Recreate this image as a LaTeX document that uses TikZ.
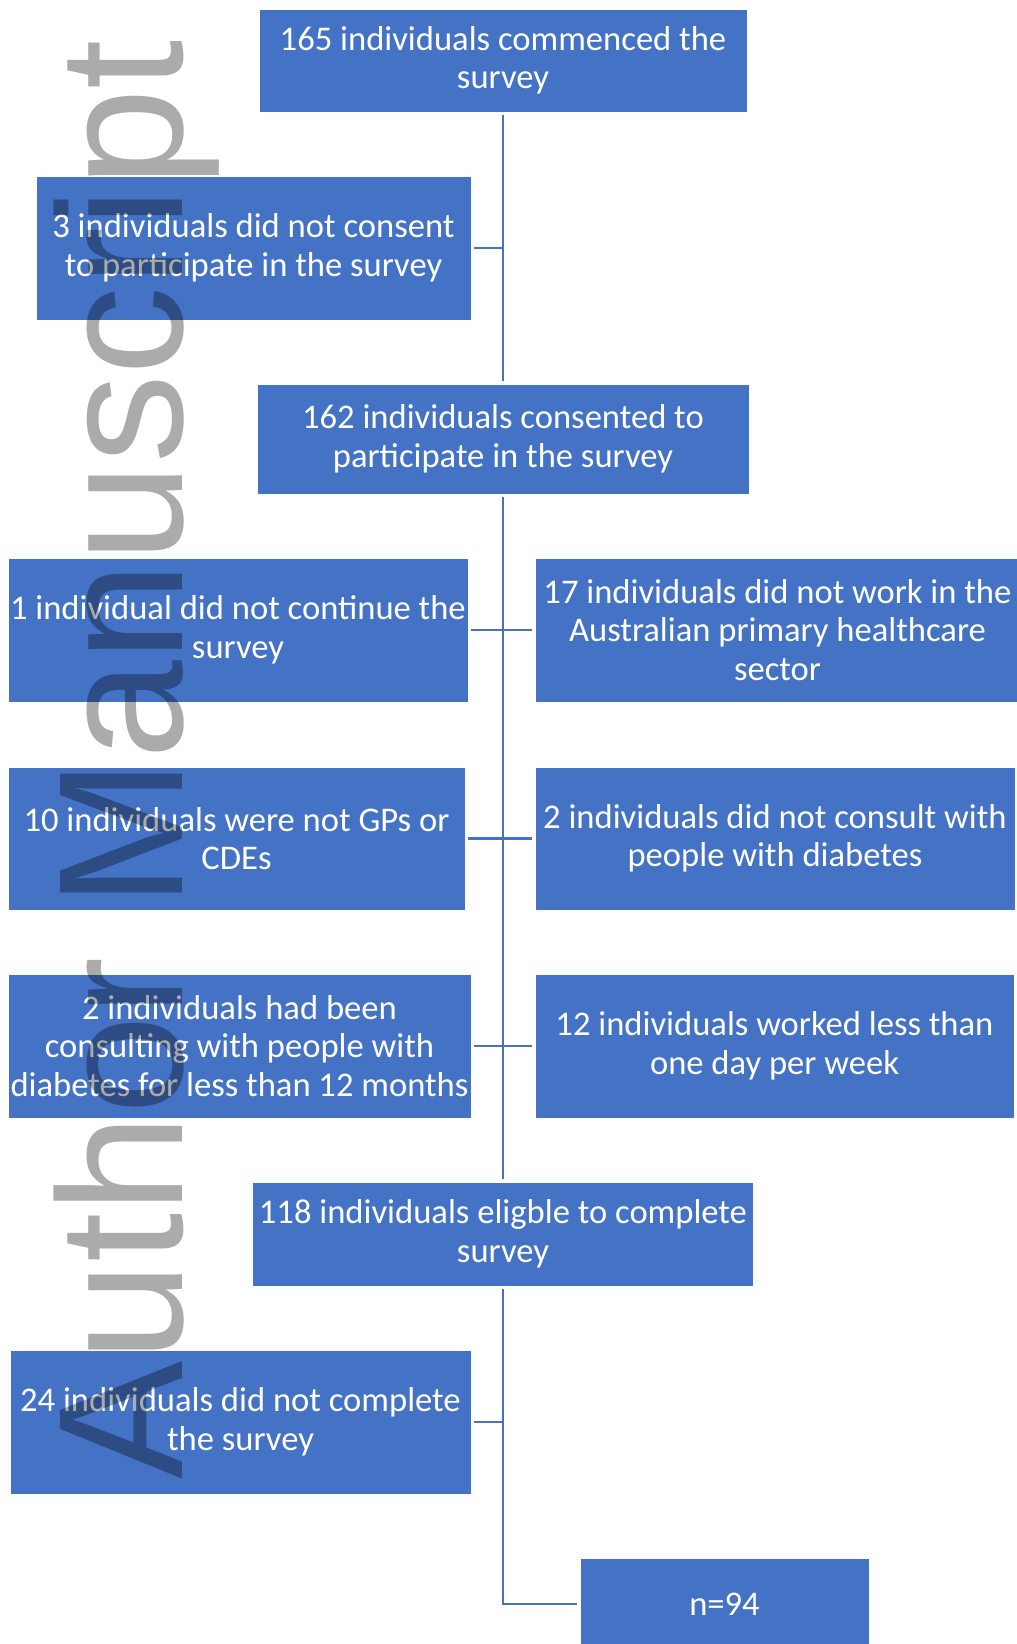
\documentclass[tikz,border=0pt]{standalone}
\usepackage{fontspec}
\setmainfont{Carlito}
\newfontfamily\wmfont{Liberation Sans}
\definecolor{boxblue}{HTML}{4472C4}
\begin{document}
\begin{tikzpicture}[x=1pt,y=-1pt,
  box/.style={fill=boxblue, draw=white, line width=0.8pt, text=white, align=center,
    inner sep=0pt, font=\fontsize{34.6}{38.5}\selectfont},
  conn/.style={draw=boxblue, line width=2.8pt}]
\useasboundingbox (0,0) rectangle (1017,1644);
\fill[white] (0,0) rectangle (1017,1644);

\node[box, minimum width=488pt, minimum height=103pt] (top) at (503,60.5) {165 individuals commenced the\\survey};
\node[box, minimum width=435pt, minimum height=144pt] (b3) at (253.5,248) {3 individuals did not consent\\to participate in the survey};
\node[box, minimum width=492pt, minimum height=110pt] (b162) at (503,439) {162 individuals consented to\\participate in the survey};
\node[box, minimum width=460pt, minimum height=144pt] (b1) at (238,630) {1 individual did not continue the\\survey};
\node[box, minimum width=485pt, minimum height=144pt] (b17) at (777.5,630) {17 individuals did not work in the\\Australian primary healthcare\\sector};
\node[box, minimum width=457pt, minimum height=143pt] (b10) at (236.5,838.5) {10 individuals were not GPs or\\CDEs};
\node[box, minimum width=480pt, minimum height=143pt] (b2c) at (775,838.5) {2 individuals did not consult with\\people with diabetes};
\node[box, minimum width=463pt, minimum height=144pt] (b2h) at (239.5,1046) {2 individuals had been\\consulting with people with\\diabetes for less than 12 months};
\node[box, minimum width=479pt, minimum height=144pt] (b12) at (774.5,1046) {12 individuals worked less than\\one day per week};
\node[box, minimum width=501pt, minimum height=104pt] (b118) at (503,1234) {118 individuals eligble to complete\\survey};
\node[box, minimum width=461pt, minimum height=144pt] (b24) at (240.5,1422) {24 individuals did not complete\\the survey};
\node[box, minimum width=289pt, minimum height=92pt] (bn) at (724.5,1604) {n=94};

\draw[conn, shorten <=3pt, shorten >=3pt] (top) -- (b162);
\draw[conn, shorten <=3pt] (b3.east) -- (b3.east -| top.south);
\draw[conn, shorten <=3pt, shorten >=3pt] (b162) -- (b118);
\draw[conn, shorten <=3pt, shorten >=3pt] (b1.east) -- (b17.west);
\draw[conn, shorten <=3pt, shorten >=3pt] (b10.east) -- (b2c.west);
\draw[conn, shorten <=3pt, shorten >=3pt] (b2h.east) -- (b12.west);
\draw[conn, shorten <=3pt, shorten >=3pt] (b118.south) |- (bn.west);
\draw[conn, shorten <=3pt] (b24.east) -- (b24.east -| b118.south);

\node[anchor=base west, rotate=90, inner sep=0pt, text=black, text opacity=0.33,
  font=\wmfont\fontsize{177.5}{180}\selectfont] (wm) at (182,1480) {Author Manuscript};
\end{tikzpicture}
\end{document}
